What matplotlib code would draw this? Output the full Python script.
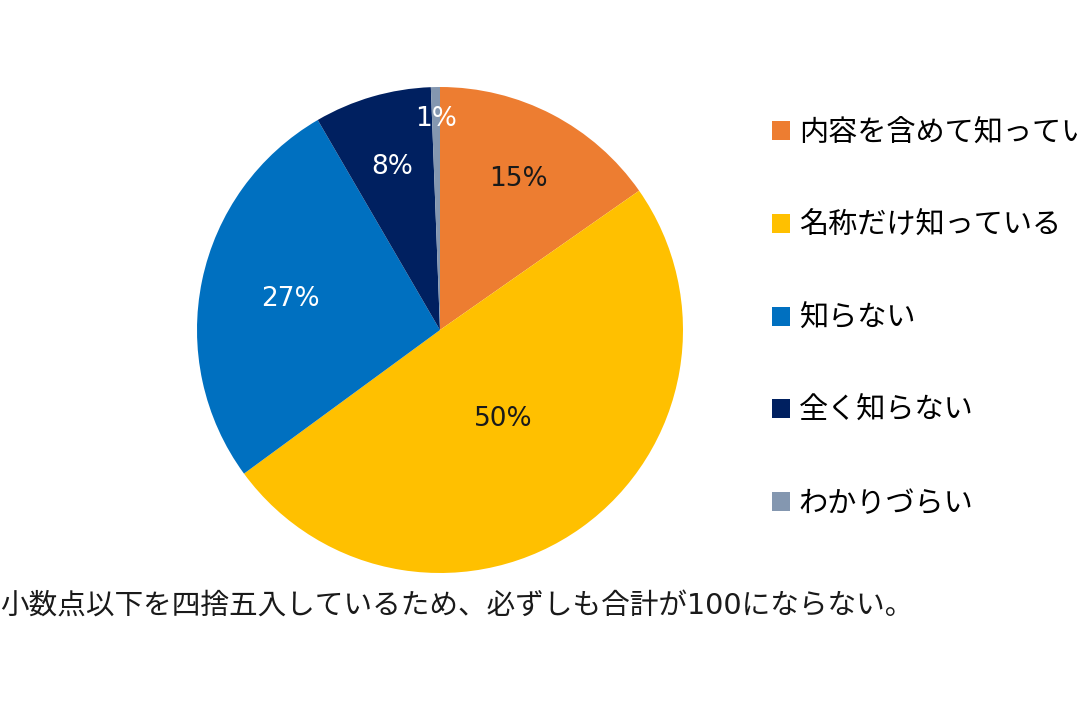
import numpy as np
import matplotlib
matplotlib.use('Agg')
import matplotlib.pyplot as plt

plt.rcParams['font.family'] = ['Noto Sans CJK JP', 'DejaVu Sans']

categories = ['内容を含めて知っている', '名称だけ知っている', '知らない', '全く知らない', 'わかりづらい']
values = [15.3, 49.7, 26.7, 7.8, 0.6]
pct_labels = ['15%', '50%', '27%', '8%', '1%']
colors = ['#ED7D31', '#FFC000', '#0070C0', '#002060', '#8497B0']
label_colors = ['#1a1a1a', '#1a1a1a', 'white', 'white', 'white']
label_radius = [0.70, 0.45, 0.63, 0.70, 0.87]

fig = plt.figure(figsize=(10.8, 7.2), dpi=100)
W, H = 1080, 720
cx, cy, r = 440, 330, 243
ax = fig.add_axes([(cx - r) / W, (H - cy - r) / H, 2 * r / W, 2 * r / H])

wedges, _ = ax.pie(values, colors=colors, startangle=90, counterclock=False,
                   radius=1.0, wedgeprops=dict(linewidth=0))
ax.set_xlim(-1, 1)
ax.set_ylim(-1, 1)
ax.set_aspect('equal')
ax.axis('off')

# percentage labels
for w, txt, col, rr in zip(wedges, pct_labels, label_colors, label_radius):
    ang = np.deg2rad((w.theta1 + w.theta2) / 2)
    ax.text(rr * np.cos(ang), rr * np.sin(ang), txt, ha='center', va='center',
            fontsize=19, color=col, family=['DejaVu Sans'])

# legend
leg = fig.legend(wedges, categories, loc='upper left', bbox_to_anchor=(772 / W, 1 - 118 / H),
                 frameon=False, fontsize=21, handlelength=0.62, handleheight=0.62,
                 handletextpad=0.3, labelspacing=2.15, borderaxespad=0, borderpad=0)

# footnote
fig.text(0 / W, 1 - 606 / H, '小数点以下を四捨五入しているため、必ずしも合計が100にならない。',
         ha='left', va='center', fontsize=20.6, color='#1a1a1a',
         family=['DejaVu Sans', 'Noto Sans CJK JP'])

fig.savefig('out.png', dpi=100, facecolor='white')
